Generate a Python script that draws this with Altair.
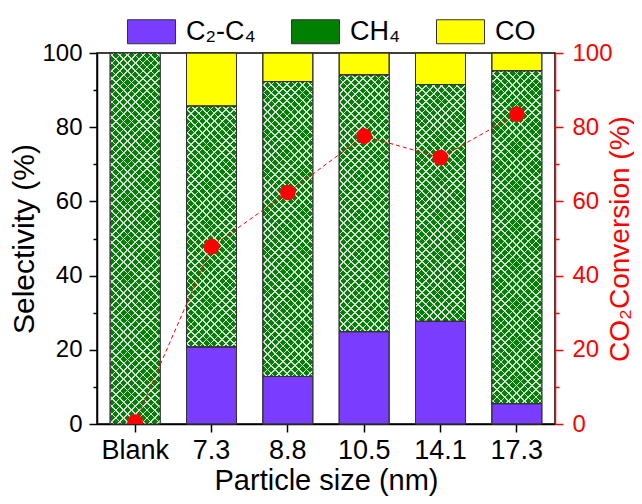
import altair as alt
import pandas as pd

# ---------------- data ----------------
sizes = ["Blank", "7.3", "8.8", "10.5", "14.1", "17.3"]
species = ["C₂-C₄", "CH₄", "CO"]
c2c4 = [0, 20.8, 12.8, 24.9, 27.7, 5.5]
ch4 = [100, 64.9, 79.5, 69.2, 63.8, 89.7]
co = [0, 14.3, 7.7, 5.9, 8.5, 4.8]
conversion = [0.5, 47.8, 62.4, 77.6, 71.8, 83.5]
colors = ["#7A3CFF", "#008000", "#FFFF00"]

# ---------------- layout ----------------
W, H = 458, 371
PAD_IN = 0.345
BW = W / len(sizes) * (1 - PAD_IN)      # band width in px
FONT = "Liberation Sans"
RED = "#FF0000"

rows = []
for s, a, b, c in zip(sizes, c2c4, ch4, co):
    lo = 0.0
    for sp, v in zip(species, [a, b, c]):
        rows.append({"size": s, "species": sp, "start": lo, "end": lo + v, "value": v})
        lo += v
seg = pd.DataFrame(rows)
seg = seg[seg["value"] > 0]
conv = pd.DataFrame({"size": sizes, "conversion": conversion})

# ---------------- hatch gradients ----------------
PERIOD = 7.8     # spacing of hatch lines (px along x)
LW = 1.7         # line thickness (in x+y units)
CLEAR = "rgba(255,255,255,0)"
LINE = "#dcdcdc"


def hatch(h, direction):
    w = BW
    a = w * (w + h) / (w * w + h * h)
    if direction == "up":
        x1, y1, x2, y2 = 0, 0, a, a * h / w
    else:
        x1, y1, x2, y2 = 0, 1, a, 1 - a * h / w
    L = w + h
    stops = [alt.GradientStop(color=CLEAR, offset=0)]
    pos = PERIOD / 2
    while pos < L:
        s0 = max(0.0, (pos - LW / 2) / L)
        s1 = min(1.0, (pos + LW / 2) / L)
        stops += [
            alt.GradientStop(color=CLEAR, offset=s0),
            alt.GradientStop(color=LINE, offset=s0),
            alt.GradientStop(color=LINE, offset=s1),
            alt.GradientStop(color=CLEAR, offset=s1),
        ]
        pos += PERIOD
    stops.append(alt.GradientStop(color=CLEAR, offset=1))
    return alt.LinearGradient(gradient="linear", stops=stops, x1=x1, y1=y1, x2=x2, y2=y2)


# ---------------- encodings ----------------
x_axis = alt.Axis(
    title="Particle size (nm)", labelAngle=0, labelFontSize=27, titleFontSize=29,
    titleFontWeight="normal", tickSize=8, tickWidth=1.5, tickColor="black",
    domainColor="black", domainWidth=1.5, labelColor="black", titleColor="black",
    labelPadding=5, titleY=42, titleBaseline="top", grid=False,
)
X = alt.X("size:N", sort=sizes,
          scale=alt.Scale(domain=sizes, paddingInner=PAD_IN, paddingOuter=PAD_IN / 2),
          axis=x_axis)

left_axis = alt.Axis(
    orient="left", values=[0, 20, 40, 60, 80, 100], title="Selectivity (%)",
    labelFontSize=24, titleFontSize=30, titleFontWeight="normal", tickSize=8,
    tickWidth=1.5, tickColor="black", domainColor="black", domainWidth=1.5,
    labelColor="black", titleColor="black", labelPadding=7, titlePadding=2, grid=False,
)
sel_scale = alt.Scale(domain=[0, 100], nice=False)
Y = alt.Y("start:Q", scale=sel_scale, axis=left_axis)
Y2 = alt.Y2("end:Q")

bars = alt.Chart(seg).mark_bar(stroke="#333333", strokeWidth=1).encode(
    x=X, y=Y, y2=Y2,
    color=alt.Color(
        "species:N",
        scale=alt.Scale(domain=species, range=colors),
        legend=alt.Legend(
            title=None, orient="none", legendX=30, legendY=-46, direction="horizontal",
            symbolType="M-1,-0.5H1V0.5H-1Z", symbolSize=2304, symbolStrokeWidth=1,
            symbolStrokeColor="#333333", labelFontSize=27, labelFont=FONT,
            labelColor="black", labelOffset=10, columnPadding=33, padding=0,
        ),
    ),
)

overlays = []
ch4_seg = seg[seg["species"] == "CH₄"]
for s, v in zip(sizes, ch4):
    h = v * H / 100.0
    for d in ("up", "down"):
        overlays.append(
            alt.Chart(ch4_seg)
            .transform_filter(alt.datum.size == s)
            .mark_bar(fill=hatch(h, d), strokeWidth=0)
            .encode(x=X, y=Y, y2=Y2)
        )

outline = alt.Chart(seg).mark_bar(fillOpacity=0, stroke="#333333", strokeWidth=1).encode(
    x=X, y=Y, y2=Y2
)

sel_group = alt.layer(bars, *overlays, outline)

minor_left = alt.Chart(seg).mark_point(opacity=0).encode(
    y=alt.Y("end:Q", scale=sel_scale,
            axis=alt.Axis(orient="left", values=[10, 30, 50, 70, 90], labels=False,
                          domain=False, tickSize=4, tickWidth=1.5, tickColor="black",
                          title=None, grid=False))
)

right_axis = alt.Axis(
    orient="right", values=[0, 20, 40, 60, 80, 100], title="CO₂Conversion (%)",
    titleAngle=270, titleBaseline="top", titleX=51, labelFontSize=24, titleFontSize=28,
    titleFontWeight="normal", tickSize=8, tickWidth=1.5, tickColor=RED, domainColor=RED,
    domainWidth=1.5, labelColor=RED, titleColor=RED, labelPadding=9,
    grid=False,
)
conv_scale = alt.Scale(domain=[0, 100], nice=False)
YC = alt.Y("conversion:Q", scale=conv_scale, axis=right_axis)

line = alt.Chart(conv).mark_line(color=RED, strokeWidth=1, strokeDash=[4, 3]).encode(x=X, y=YC)
points = alt.Chart(conv).mark_circle(color=RED, size=245, opacity=1, clip=True).encode(x=X, y=YC)
conv_group = alt.layer(line, points)

minor_right = alt.Chart(conv).mark_point(opacity=0).encode(
    y=alt.Y("conversion:Q", scale=conv_scale,
            axis=alt.Axis(orient="right", values=[10, 30, 50, 70, 90], labels=False,
                          domain=False, tickSize=4, tickWidth=1.5, tickColor=RED,
                          title=None, grid=False))
)

chart = (
    alt.layer(sel_group, minor_left, conv_group, minor_right)
    .resolve_scale(y="independent")
    .properties(
        width=W, height=H,
        autosize=alt.AutoSizeParams(type="none"),
        padding={"left": 89, "top": 45, "right": 79, "bottom": 72},
    )
    .configure(font=FONT)
    .configure_view(stroke="black", strokeWidth=1.5)
)

chart.save("out.html", embed_options={"renderer": "svg", "actions": False})
